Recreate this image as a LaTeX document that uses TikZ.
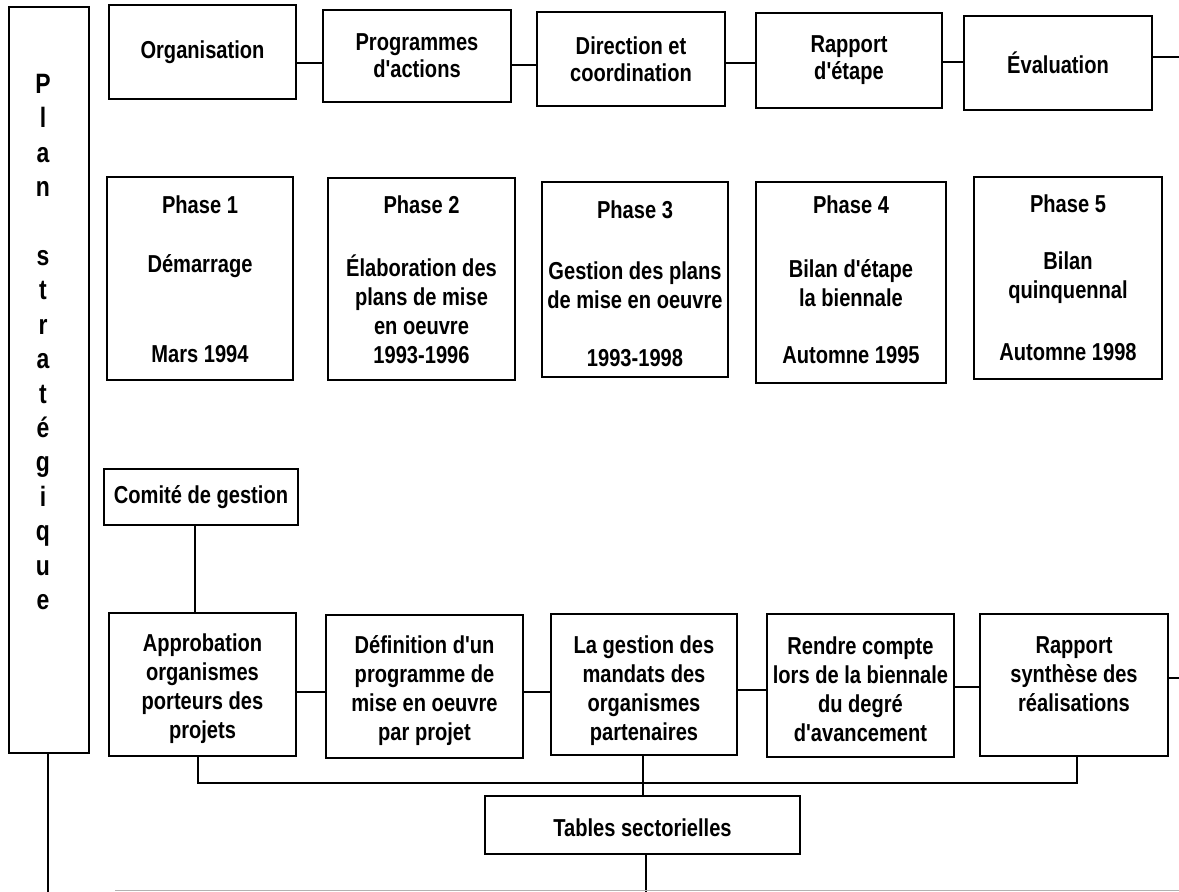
\documentclass[tikz,border=0pt]{standalone}
\usepackage{fontspec}
\setmainfont{Liberation Sans}[FakeStretch=0.82,Ligatures=TeXOff]
\begin{document}
\begin{tikzpicture}[x=1pt,y=-1pt,
  box/.style={draw,line width=2.6pt,inner sep=0pt},
  conn/.style={line width=2.4pt},
  txt/.style={align=center,inner sep=0pt,font=\bfseries\fontsize{24.5}{29}\selectfont},
  toptxt/.style={align=center,inner sep=0pt,font=\bfseries\fontsize{24.5}{27}\selectfont}]
\useasboundingbox (0,0) rectangle (1179,892);
% Plan strategique
\node[box,minimum width=80pt,minimum height=746pt] (plan) at (49,380) {};
\node[align=center,inner sep=0pt,font=\bfseries\fontsize{28}{34.4}\selectfont] (plantxt) at (43,342)
  {P\\l\\a\\n\\[34.4pt]s\\t\\r\\a\\t\\é\\g\\i\\q\\u\\e};
% top row
\node[box,minimum width=187pt,minimum height=94pt] (org) at (202.5,52) {};
\node[toptxt] (orgt) at (org.center) {Organisation};
\node[box,minimum width=188pt,minimum height=92pt] (prog) at (417,56) {};
\node[toptxt] (progt) at (prog.center) {Programmes\\d'actions};
\node[box,minimum width=188pt,minimum height=94pt] (dir) at (631,59) {};
\node[toptxt] (dirt) at (dir.center) {Direction et\\coordination};
\node[box,minimum width=186pt,minimum height=95pt] (rap) at (849,60.5) {};
\node[toptxt] (rapt) at (rap.center) {Rapport\\d'étape};
\node[box,minimum width=188pt,minimum height=94pt] (eva) at (1058,63) {};
\node[toptxt] (evat) at (eva.center) {Évaluation};
\coordinate (evaout) at (1179,57);
\draw[conn] (org.east |- 0,63) -- (prog.west |- 0,63);
\draw[conn] (prog.east |- 0,65) -- (dir.west |- 0,65);
\draw[conn] (dir.east |- 0,63) -- (rap.west |- 0,63);
\draw[conn] (rap.east |- 0,62) -- (eva.west |- 0,62);
\draw[conn] (eva.east |- evaout) -- (evaout);
% phases
\node[box,minimum width=186pt,minimum height=203pt] (p1) at (200,278.5) {};
\node[txt] (p1a) at (200,205) {Phase 1};
\node[txt] (p1b) at (200,266) {Démarrage};
\node[txt] (p1c) at (200,354) {Mars 1994};
\node[box,minimum width=187pt,minimum height=202pt] (p2) at (421.5,279) {};
\node[txt] (p2a) at (421.5,205) {Phase 2};
\node[txt] (p2b) at (421.5,309.5) {Élaboration des\\plans de mise\\en oeuvre\\1993-1996};
\node[box,minimum width=186pt,minimum height=195pt] (p3) at (635,279.5) {};
\node[txt] (p3a) at (635,210) {Phase 3};
\node[txt] (p3b) at (635,285) {Gestion des plans\\de mise en oeuvre};
\node[txt] (p3c) at (635,358) {1993-1998};
\node[box,minimum width=190pt,minimum height=201pt] (p4) at (851,282.5) {};
\node[txt] (p4a) at (851,205) {Phase 4};
\node[txt] (p4b) at (851,283.5) {Bilan d'étape\\la biennale};
\node[txt] (p4c) at (851,355) {Automne 1995};
\node[box,minimum width=188pt,minimum height=202pt] (p5) at (1068,278) {};
\node[txt] (p5a) at (1068,204) {Phase 5};
\node[txt] (p5b) at (1068,277.5) {Bilan\\quinquennal};
\node[txt] (p5c) at (1068,352) {Automne 1998};
% comite
\node[box,minimum width=194pt,minimum height=56pt] (com) at (201,497) {};
\node[txt] (comt) at (com.center) {Comité de gestion};
% bottom row
\node[box,minimum width=187pt,minimum height=143pt] (b1) at (202.5,684.5) {};
\node[txt] (b1t) at (202.5,689) {Approbation\\organismes\\porteurs des\\projets};
\node[box,minimum width=197pt,minimum height=143pt] (b2) at (424.5,686.5) {};
\node[txt] (b2t) at (424.5,691) {Définition d'un\\programme de\\mise en oeuvre\\par projet};
\node[box,minimum width=186pt,minimum height=141pt] (b3) at (644,684.5) {};
\node[txt] (b3t) at (644,690.5) {La gestion des\\mandats des\\organismes\\partenaires};
\node[box,minimum width=187pt,minimum height=143pt] (b4) at (860.5,685.5) {};
\node[txt] (b4t) at (860.5,689.5) {Rendre compte\\lors de la biennale\\du degré\\d'avancement};
\node[box,minimum width=188pt,minimum height=142pt] (b5) at (1074,685) {};
\node[txt] (b5t) at (1074,674) {Rapport\\synthèse des\\réalisations};
\coordinate (b5out) at (1179,678);
\draw[conn] (com.south -| 195,0) -- (b1.north -| 195,0);
\draw[conn] (b1.east |- 0,692) -- (b2.west |- 0,692);
\draw[conn] (b2.east |- 0,692) -- (b3.west |- 0,692);
\draw[conn] (b3.east |- 0,690) -- (b4.west |- 0,690);
\draw[conn] (b4.east |- 0,687) -- (b5.west |- 0,687);
\draw[conn] (b5.east |- b5out) -- (b5out);
% tables
\node[box,minimum width=315pt,minimum height=58pt] (tab) at (642.5,825) {};
\node[txt] (tabt) at (642.5,828) {Tables sectorielles};
\coordinate (bus1) at (198,783);
\coordinate (bus5) at (1077,783);
\coordinate (tabdown) at (646,892);
\coordinate (plandown) at (48,892);
\draw[conn] (b1.south -| bus1) -- (bus1) -- (bus5) -- (b5.south -| bus5);
\draw[conn] (b3.south -| 643,0) -- (tab.north -| 643,0);
\draw[conn] (tab.south -| tabdown) -- (tabdown);
\draw[conn] (plan.south -| plandown) -- (plandown);
\coordinate (gl) at (115,890.5);
\coordinate (gr) at (1179,890.5);
\draw[gray!60,line width=1pt] (gl) -- (gr);
\end{tikzpicture}
\end{document}
